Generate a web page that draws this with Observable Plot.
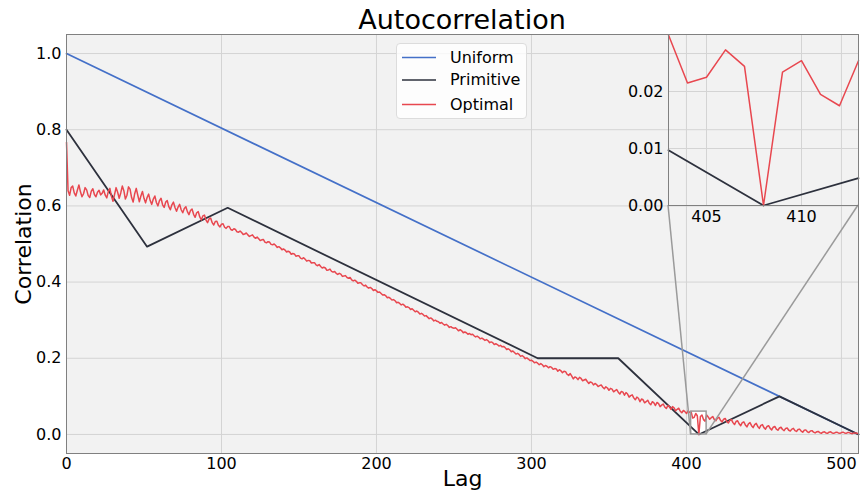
<!DOCTYPE html>
<html><head><meta charset="utf-8">
<script src="https://cdn.jsdelivr.net/npm/d3@7"></script>
<script src="https://cdn.jsdelivr.net/npm/@observablehq/plot@0.6"></script>
<style>
body{margin:0;background:#fff;font-family:"DejaVu Sans",sans-serif;color:#000;}
#wrap{position:relative;width:861px;height:502px;overflow:hidden;background:#fff;}
#wrap svg{position:absolute;}
#title{position:absolute;left:66px;width:792px;top:4px;text-align:center;font-size:27px;line-height:32px;}
#legend{position:absolute;left:396px;top:43px;width:131px;height:76px;background:rgba(255,255,255,0.8);border:1px solid #dcdcdc;border-radius:4px;box-sizing:border-box;}
#legend svg{position:absolute;left:0;top:0;}
.ltx{position:absolute;left:53px;font-size:16px;line-height:20px;white-space:nowrap;}
</style>
</head><body>
<div id="wrap"><div id="title">Autocorrelation</div></div>
<script>
// ---------- data ----------
const seriesNames = ["Uniform", "Primitive", "Optimal"];
const seriesColors = ["#4470c8", "#2d313d", "#e8474f"];

const uniformLag = [0, 511];
const uniformVal = [1.0, 0.0];

const primitiveLag = [0, 52, 104, 304, 356, 408, 460, 511];
const primitiveVal = [0.8, 0.493, 0.595, 0.2, 0.2, 0.0, 0.1, 0.0];

// Optimal autocorrelation, lags 0..511
const optimalVal = [
0.767,0.640,0.628,0.648,0.652,0.634,0.626,0.641,0.655,0.637,
0.624,0.632,0.648,0.642,0.627,0.622,0.639,0.645,0.630,0.624,
0.636,0.641,0.629,0.633,0.642,0.628,0.621,0.638,0.646,0.625,
0.612,0.630,0.648,0.636,0.620,0.634,0.652,0.640,0.618,0.628,
0.650,0.644,0.622,0.610,0.632,0.646,0.628,0.611,0.626,0.638,
0.620,0.608,0.622,0.631,0.614,0.604,0.618,0.626,0.609,0.600,
0.614,0.620,0.603,0.596,0.610,0.614,0.598,0.590,0.603,0.610,
0.596,0.586,0.597,0.604,0.590,0.582,0.593,0.598,0.585,0.577,
0.588,0.592,0.578,0.570,0.582,0.585,0.571,0.563,0.574,0.576,
0.563,0.556,0.566,0.568,0.556,0.550,0.559,0.560,0.549,0.545,
0.552,0.553,0.544,0.541,0.546,0.546,0.538,0.536,0.540,0.538,
0.532,0.531,0.534,0.530,0.525,0.526,0.529,0.524,0.520,0.522,
0.524,0.518,0.515,0.518,0.514,0.509,0.511,0.512,0.505,0.503,
0.506,0.505,0.499,0.498,0.500,0.496,0.491,0.493,0.490,0.485,
0.487,0.484,0.479,0.481,0.479,0.473,0.475,0.474,0.468,0.469,
0.469,0.463,0.461,0.464,0.460,0.455,0.457,0.456,0.450,0.451,
0.451,0.445,0.443,0.446,0.441,0.437,0.439,0.437,0.431,0.432,
0.434,0.428,0.426,0.428,0.423,0.420,0.423,0.421,0.415,0.416,
0.417,0.412,0.410,0.412,0.406,0.403,0.405,0.402,0.397,0.398,
0.398,0.393,0.390,0.392,0.387,0.384,0.386,0.383,0.378,0.380,
0.377,0.373,0.374,0.370,0.366,0.367,0.364,0.359,0.360,0.357,
0.353,0.354,0.351,0.346,0.347,0.344,0.340,0.342,0.339,0.334,
0.335,0.333,0.328,0.330,0.326,0.322,0.324,0.321,0.316,0.318,
0.315,0.311,0.312,0.308,0.304,0.306,0.303,0.298,0.300,0.297,
0.296,0.292,0.294,0.290,0.287,0.289,0.286,0.281,0.283,0.280,
0.279,0.280,0.276,0.272,0.275,0.272,0.267,0.269,0.267,0.263,
0.265,0.262,0.263,0.259,0.256,0.258,0.255,0.251,0.253,0.250,
0.247,0.249,0.246,0.241,0.243,0.241,0.236,0.238,0.236,0.232,
0.234,0.230,0.231,0.228,0.223,0.225,0.222,0.217,0.219,0.215,
0.211,0.213,0.210,0.205,0.207,0.204,0.199,0.201,0.198,0.194,
0.195,0.192,0.188,0.190,0.187,0.183,0.186,0.183,0.178,0.181,
0.179,0.175,0.178,0.176,0.171,0.173,0.172,0.166,0.170,0.167,
0.162,0.166,0.165,0.158,0.155,0.160,0.153,0.146,0.151,0.149,
0.144,0.150,0.147,0.141,0.143,0.145,0.139,0.134,0.138,0.136,
0.130,0.134,0.131,0.126,0.128,0.130,0.124,0.120,0.125,0.122,
0.116,0.121,0.119,0.112,0.115,0.118,0.111,0.106,0.113,0.111,
0.103,0.110,0.106,0.098,0.102,0.104,0.096,0.091,0.098,0.095,
0.086,0.093,0.091,0.083,0.086,0.090,0.082,0.078,0.086,0.083,
0.076,0.084,0.081,0.073,0.077,0.080,0.072,0.068,0.076,0.073,
0.066,0.073,0.070,0.062,0.066,0.069,0.061,0.057,0.063,0.060,
0.055,0.062,0.058,
0.060,0.043,0.045,0.055,0.049,0.000,0.047,0.051,0.039,0.035,0.051,
0.046,0.040,0.044,0.047,0.039,0.036,
0.043,0.045,0.037,0.033,0.040,0.042,0.034,0.030,0.037,0.039,
0.031,0.026,0.034,0.036,0.028,0.023,0.031,0.033,0.025,0.020,
0.028,0.031,0.023,0.018,0.026,0.029,0.021,0.016,0.024,0.026,
0.018,0.014,0.021,0.023,0.016,0.012,0.019,0.021,0.014,0.011,
0.017,0.019,0.013,0.010,0.016,0.017,0.011,0.009,0.014,0.016,
0.010,0.008,0.013,0.014,0.009,0.006,0.011,0.012,0.007,0.005,
0.009,0.010,0.006,0.004,0.007,0.008,0.005,0.003,0.006,0.007,
0.004,0.003,0.006,0.007,0.004,0.003,0.005,0.006,0.004,0.003,
0.005,0.006,0.004,0.003,0.005,0.005,0.003,0.002,0.004,0.004,0.003,0.002
];

const xTicks = [0, 100, 200, 300, 400, 500];
const yTicks = [0.0, 0.2, 0.4, 0.6, 0.8, 1.0];

// inset (zoom) data
const insetLag = [403, 404, 405, 406, 407, 408, 409, 410, 411, 412, 413];
const insetOptimal = [0.0299, 0.0215, 0.0225, 0.0273, 0.0244, 0.0, 0.0234, 0.0254, 0.0195, 0.0175, 0.0254];
const insetPrimLag = [403, 408, 413];
const insetPrimVal = [0.0097, 0.0, 0.0048];
const insetXTicks = [405, 410];
const insetYTicks = [0.0, 0.01, 0.02];
const zoomBoxLag = [403, 413];
const zoomBoxVal = [0.0, 0.06];

// ---------- build ----------
const uniform = uniformLag.map((x, i) => ({x, y: uniformVal[i]}));
const primitive = primitiveLag.map((x, i) => ({x, y: primitiveVal[i]}));
const optimal = optimalVal.map((y, i) => ({x: i, y}));
const box = [{x1: zoomBoxLag[0], x2: zoomBoxLag[1], y1: zoomBoxVal[0], y2: zoomBoxVal[1]}];
const gridColor = "#d4d4d4";
const font = "DejaVu Sans";

const main = Plot.plot({
  width: 861, height: 502,
  marginTop: 34, marginBottom: 49, marginLeft: 66, marginRight: 3,
  style: {fontFamily: font, fontSize: "16px", background: "transparent", color: "#000"},
  x: {domain: [0, 511]},
  y: {domain: [-0.05, 1.05]},
  marks: [
    Plot.frame({fill: "#f2f2f2"}),
    Plot.ruleX(xTicks, {stroke: gridColor, strokeWidth: 1}),
    Plot.ruleY(yTicks, {stroke: gridColor, strokeWidth: 1}),
    Plot.rect(box, {x1: "x1", x2: "x2", y1: "y1", y2: "y2", fill: "white"}),
    Plot.line(uniform, {x: "x", y: "y", stroke: seriesColors[0], strokeWidth: 1.7}),
    Plot.line(primitive, {x: "x", y: "y", stroke: seriesColors[1], strokeWidth: 1.8}),
    Plot.line(optimal, {x: "x", y: "y", stroke: seriesColors[2], strokeWidth: 1.5}),
    Plot.rect(box, {x1: "x1", x2: "x2", y1: "y1", y2: "y2", fill: "none", stroke: "#9a9a9a", strokeWidth: 1.5}),
    Plot.frame({stroke: "#808080", strokeWidth: 1}),
    Plot.axisX({ticks: xTicks, tickSize: 0, tickPadding: 4, fontSize: 16, label: null, tickFormat: d => String(d)}),
    Plot.axisY({ticks: yTicks, tickSize: 0, tickPadding: 5, fontSize: 16, label: null, tickFormat: d3.format(".1f")}),
    Plot.text(["Lag"], {frameAnchor: "bottom", dy: 32, text: d => d, fontSize: 22, textAnchor: "middle"}),
    Plot.text(["Correlation"], {frameAnchor: "left", dx: -43, rotate: -90, text: d => d, fontSize: 22, textAnchor: "middle"})
  ]
});
main.style.left = "0px"; main.style.top = "0px";
const wrap = document.getElementById("wrap");
wrap.appendChild(main);

// inset
const insetLeft = 618, insetTop = 24;
const inset = Plot.plot({
  width: 243, height: 205,
  marginTop: 10, marginBottom: 24, marginLeft: 50, marginRight: 3,
  style: {fontFamily: font, fontSize: "16px", background: "transparent", color: "#000", overflow: "visible"},
  x: {domain: [403, 413]},
  y: {domain: [0, 0.03]},
  marks: [
    Plot.ruleX(insetXTicks, {stroke: gridColor, strokeWidth: 1}),
    Plot.ruleY(insetYTicks, {stroke: gridColor, strokeWidth: 1}),
    Plot.line(insetPrimLag.map((x, i) => ({x, y: insetPrimVal[i]})), {x: "x", y: "y", stroke: seriesColors[1], strokeWidth: 1.8}),
    Plot.line(insetLag.map((x, i) => ({x, y: insetOptimal[i]})), {x: "x", y: "y", stroke: seriesColors[2], strokeWidth: 1.5}),
    Plot.frame({stroke: "#808080", strokeWidth: 1}),
    Plot.axisX({ticks: insetXTicks, tickSize: 0, tickPadding: 5, fontSize: 16, label: null, tickFormat: d => String(d)}),
    Plot.axisY({ticks: insetYTicks, tickSize: 0, tickPadding: 5, fontSize: 16, label: null, tickFormat: d3.format(".2f")})
  ]
});
inset.style.left = insetLeft + "px"; inset.style.top = insetTop + "px";

// connector lines from zoom box to inset
const mx = main.scale("x"), my = main.scale("y");
const ix = inset.scale("x"), iy = inset.scale("y");
const conn = d3.create("svg").attr("width", 861).attr("height", 502)
  .style("left", "0px").style("top", "0px").style("pointer-events", "none");
const links = [
  [mx.apply(zoomBoxLag[0]), my.apply(zoomBoxVal[0]), insetLeft + ix.apply(403), insetTop + iy.apply(0)],
  [mx.apply(zoomBoxLag[1]), my.apply(zoomBoxVal[0]), insetLeft + ix.apply(413), insetTop + iy.apply(0)]
];
conn.selectAll("line").data(links).join("line")
  .attr("x1", d => d[0]).attr("y1", d => d[1]).attr("x2", d => d[2]).attr("y2", d => d[3])
  .attr("stroke", "#9a9a9a").attr("stroke-width", 1.5);
wrap.appendChild(conn.node());
wrap.appendChild(inset);

// legend
const legend = document.createElement("div");
legend.id = "legend";
const rowY = [13.5, 36, 60.5];
const lsvg = d3.create("svg").attr("width", 130).attr("height", 75);
lsvg.selectAll("line").data(seriesNames).join("line")
  .attr("x1", 5).attr("x2", 39)
  .attr("y1", (d, i) => rowY[i]).attr("y2", (d, i) => rowY[i])
  .attr("stroke", (d, i) => seriesColors[i]).attr("stroke-width", 1.6);
legend.appendChild(lsvg.node());
seriesNames.forEach((name, i) => {
  const tx = document.createElement("div");
  tx.className = "ltx";
  tx.style.top = (rowY[i] - 10) + "px";
  tx.textContent = name;
  legend.appendChild(tx);
});
wrap.appendChild(legend);
</script>
</body></html>
